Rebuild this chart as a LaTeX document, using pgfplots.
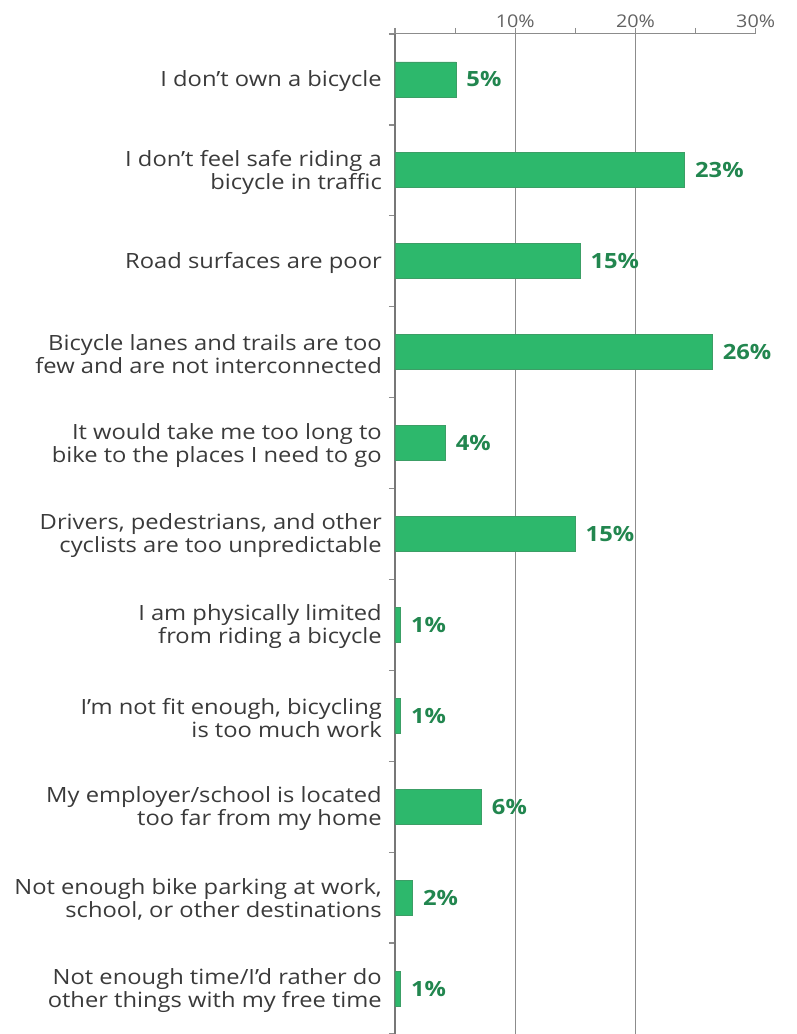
\documentclass[border=0pt]{standalone}
\usepackage{pgfplots}
\usepackage{pgfplotstable}
\pgfplotsset{compat=1.18}
\usepackage{fontspec}
\setmainfont{Open Sans}[FakeStretch=1.13]
\definecolor{barfill}{HTML}{2DB86C}
\definecolor{baredge}{HTML}{3C9E66}
\definecolor{labgreen}{HTML}{22864F}
\definecolor{axgray}{HTML}{8C8C8C}
\definecolor{txt}{HTML}{3A3A3A}

\pgfplotstableread{
i v lab
10 5.08 5
9 24.1 23
8 15.4 15
7 26.4 26
6 4.2 4
5 15.0 15
4 0.47 1
3 0.47 1
2 7.2 6
1 1.47 2
0 0.47 1
}\data

\begin{document}
\begin{tikzpicture}
\begin{axis}[name=ax, scale only axis, width=360.7pt, height=1000pt,
  xmin=0, xmax=30, ymin=-0.5, ymax=10.5,
  axis x line*=top, axis y line*=left,
  x axis line style={draw=axgray, line width=1pt},
  y axis line style={draw=axgray!85!black, line width=2.5pt},
  xtick={10,20}, extra x ticks={30}, extra x tick style={grid=none},
  minor xtick={0,5,15,25},
  xmajorgrids, major grid style={draw=axgray, line width=1pt},
  tick align=outside, major tick length=6pt, minor tick length=6pt,
  every tick/.style={draw=axgray, line width=1.2pt},
  every minor tick/.style={draw=axgray, line width=1.2pt},
  every major y tick/.style={draw=none},
  xticklabel={\pgfmathprintnumber{\tick}\%},
  /pgf/number format/assume math mode=true,
  xticklabel style={font=\fontsize{17.5}{20}\selectfont, text=axgray!70!black, inner sep=0pt, yshift=0pt},
  ytick={0,...,10},
  minor ytick={-0.5,0.5,...,10.5},
  yticklabels={
    {Not enough time/I’d rather do\\other things with my free time},
    {Not enough bike parking at work,\\school, or other destinations},
    {My employer/school is located\\too far from my home},
    {I’m not fit enough, bicycling\\is too much work},
    {I am physically limited\\from riding a bicycle},
    {Drivers, pedestrians, and other\\cyclists are too unpredictable},
    {It would take me too long to\\bike to the places I need to go},
    {Bicycle lanes and trails are too\\few and are not interconnected},
    {Road surfaces are poor},
    {I don’t feel safe riding a\\bicycle in traffic},
    {I don’t own a bicycle}},
  yticklabel style={align=right, font=\fontsize{21}{23}\selectfont, text=txt, inner sep=0pt, xshift=-7pt, yshift=-2pt},
  xbar, bar width=35pt,
  point meta=explicit symbolic,
  nodes near coords={\pgfplotspointmeta\%},
  every node near coord/.style={font=\fontsize{21}{24}\bfseries, text=labgreen, anchor=west, inner sep=0pt, xshift=10pt},
]
\addplot[fill=barfill, draw=baredge, line width=0.8pt] table[x=v, y=i, meta=lab] {\data};
\end{axis}
\pgfresetboundingbox
\path (ax.south west) ++(-395pt,0pt) rectangle ++(796pt,1034pt);
\end{tikzpicture}
\end{document}
